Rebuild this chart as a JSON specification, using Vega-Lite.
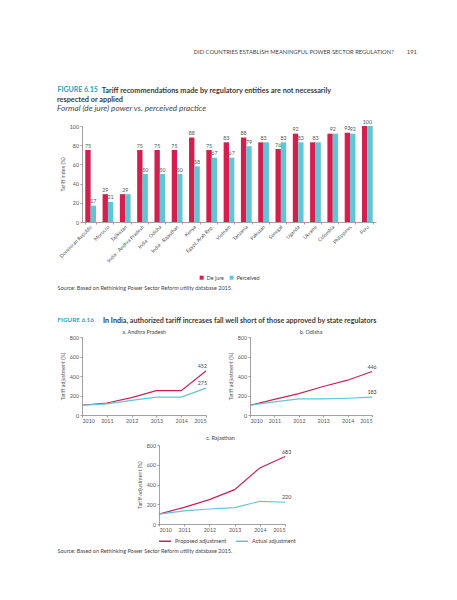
{
  "$schema": "https://vega.github.io/schema/vega-lite/v6.json",
  "background": "white",
  "padding": {"left": 57, "top": 48, "right": 10, "bottom": 10},
  "config": {
    "font": "Lato",
    "view": {"stroke": null},
    "axis": {"grid": false, "minExtent": 0, "domainColor": "#7a7a7a", "domainWidth": 0.7, "tickColor": "#7a7a7a", "tickWidth": 0.7, "tickSize": 2, "labelFontSize": 5.3, "labelColor": "#555555", "labelPadding": 1.5, "titleFontSize": 5.3, "titleFontWeight": "normal", "titleColor": "#555555"},
    "legend": {"labelFontSize": 5.5, "labelColor": "#444444"},
    "text": {"fontSize": 5.3, "color": "#555555"}
  },
  "title": {"text": "DID COUNTRIES ESTABLISH MEANINGFUL POWER SECTOR REGULATION?\u2003\u2003\u2003191", "anchor": "end", "fontSize": 5.8, "fontWeight": "normal", "color": "#444444", "offset": 31, "dx": 40},
  "resolve": {"scale": {"color": "independent"}, "legend": {"color": "independent"}},
  "spacing": 11,
  "datasets": {
    "bars": [
      {"country": "Dominican Republic", "type": "De jure", "value": 75},
      {"country": "Dominican Republic", "type": "Perceived", "value": 17},
      {"country": "Morocco", "type": "De jure", "value": 29},
      {"country": "Morocco", "type": "Perceived", "value": 21},
      {"country": "Tajikistan", "type": "De jure", "value": 29},
      {"country": "Tajikistan", "type": "Perceived", "value": 29},
      {"country": "India - Andhra Pradesh", "type": "De jure", "value": 75},
      {"country": "India - Andhra Pradesh", "type": "Perceived", "value": 50},
      {"country": "India - Odisha", "type": "De jure", "value": 75},
      {"country": "India - Odisha", "type": "Perceived", "value": 50},
      {"country": "India - Rajasthan", "type": "De jure", "value": 75},
      {"country": "India - Rajasthan", "type": "Perceived", "value": 50},
      {"country": "Kenya", "type": "De jure", "value": 88},
      {"country": "Kenya", "type": "Perceived", "value": 58},
      {"country": "Egypt, Arab Rep.", "type": "De jure", "value": 75},
      {"country": "Egypt, Arab Rep.", "type": "Perceived", "value": 67},
      {"country": "Vietnam", "type": "De jure", "value": 83},
      {"country": "Vietnam", "type": "Perceived", "value": 67},
      {"country": "Tanzania", "type": "De jure", "value": 88},
      {"country": "Tanzania", "type": "Perceived", "value": 79},
      {"country": "Pakistan", "type": "De jure", "value": 83},
      {"country": "Pakistan", "type": "Perceived", "value": 83},
      {"country": "Senegal", "type": "De jure", "value": 76},
      {"country": "Senegal", "type": "Perceived", "value": 83},
      {"country": "Uganda", "type": "De jure", "value": 92},
      {"country": "Uganda", "type": "Perceived", "value": 83},
      {"country": "Ukraine", "type": "De jure", "value": 83},
      {"country": "Ukraine", "type": "Perceived", "value": 83},
      {"country": "Colombia", "type": "De jure", "value": 92},
      {"country": "Colombia", "type": "Perceived", "value": 92},
      {"country": "Philippines", "type": "De jure", "value": 93},
      {"country": "Philippines", "type": "Perceived", "value": 92},
      {"country": "Peru", "type": "De jure", "value": 100},
      {"country": "Peru", "type": "Perceived", "value": 100}
    ],
    "ap": [
      {"year": 2010, "series": "Proposed adjustment", "value": 100},
      {"year": 2011, "series": "Proposed adjustment", "value": 123},
      {"year": 2012, "series": "Proposed adjustment", "value": 178},
      {"year": 2013, "series": "Proposed adjustment", "value": 250},
      {"year": 2014, "series": "Proposed adjustment", "value": 250},
      {"year": 2015, "series": "Proposed adjustment", "value": 452},
      {"year": 2010, "series": "Actual adjustment", "value": 100},
      {"year": 2011, "series": "Actual adjustment", "value": 115},
      {"year": 2012, "series": "Actual adjustment", "value": 150},
      {"year": 2013, "series": "Actual adjustment", "value": 183},
      {"year": 2014, "series": "Actual adjustment", "value": 184},
      {"year": 2015, "series": "Actual adjustment", "value": 275}
    ],
    "od": [
      {"year": 2010, "series": "Proposed adjustment", "value": 100},
      {"year": 2011, "series": "Proposed adjustment", "value": 161},
      {"year": 2012, "series": "Proposed adjustment", "value": 220},
      {"year": 2013, "series": "Proposed adjustment", "value": 292},
      {"year": 2014, "series": "Proposed adjustment", "value": 357},
      {"year": 2015, "series": "Proposed adjustment", "value": 446},
      {"year": 2010, "series": "Actual adjustment", "value": 100},
      {"year": 2011, "series": "Actual adjustment", "value": 134},
      {"year": 2012, "series": "Actual adjustment", "value": 165},
      {"year": 2013, "series": "Actual adjustment", "value": 165},
      {"year": 2014, "series": "Actual adjustment", "value": 172},
      {"year": 2015, "series": "Actual adjustment", "value": 183}
    ],
    "rj": [
      {"year": 2010, "series": "Proposed adjustment", "value": 100},
      {"year": 2011, "series": "Proposed adjustment", "value": 169},
      {"year": 2012, "series": "Proposed adjustment", "value": 247},
      {"year": 2013, "series": "Proposed adjustment", "value": 348},
      {"year": 2014, "series": "Proposed adjustment", "value": 568},
      {"year": 2015, "series": "Proposed adjustment", "value": 683},
      {"year": 2010, "series": "Actual adjustment", "value": 100},
      {"year": 2011, "series": "Actual adjustment", "value": 132},
      {"year": 2012, "series": "Actual adjustment", "value": 152},
      {"year": 2013, "series": "Actual adjustment", "value": 165},
      {"year": 2014, "series": "Actual adjustment", "value": 230},
      {"year": 2015, "series": "Actual adjustment", "value": 220}
    ]
  },
  "vconcat": [
    {
      "width": 294,
      "height": 96,
      "data": {"name": "bars"},
      "title": {
        "text": ["\u200b\u2003\u2003\u2003\u2003\u2003\u2003\u2003\u2003\u2009Tariff recommendations made by regulatory entities are not necessarily", "respected or applied"],
        "subtitle": "Formal (de jure) power vs. perceived practice",
        "anchor": "start", "fontSize": 7.3, "fontWeight": "bold", "color": "#3a3a3a", "lineHeight": 9.2,
        "subtitleFontSize": 8.2, "subtitleFontStyle": "italic", "subtitleFontWeight": "normal", "subtitleColor": "#4a4a4a", "subtitlePadding": 1.2,
        "offset": 4, "dy": 30.5
      },
      "transform": [
        {"joinaggregate": [{"op": "min", "field": "value", "as": "lo"}, {"op": "max", "field": "value", "as": "hi"}], "groupby": ["country"]}
      ],
      "encoding": {
        "x": {
          "field": "country", "type": "nominal",
          "sort": ["Dominican Republic", "Morocco", "Tajikistan", "India - Andhra Pradesh", "India - Odisha", "India - Rajasthan", "Kenya", "Egypt, Arab Rep.", "Vietnam", "Tanzania", "Pakistan", "Senegal", "Uganda", "Ukraine", "Colombia", "Philippines", "Peru"],
          "scale": {"paddingInner": 0.38, "paddingOuter": 0.19},
          "axis": {
            "labelAngle": -45, "labelAlign": "right", "labelBaseline": "middle", "tickBand": "extent", "labelFontSize": 5,
            "title": ["Source: Based on Rethinking Power Sector Reform utility database 2015.", ""],
            "titleX": -25, "titleY": 67.5, "titleAlign": "left", "titleAnchor": "start", "titleBaseline": "alphabetic", "titleLineHeight": 14, "titleFontSize": 5.5, "titleColor": "#444444"
          }
        }
      },
      "layer": [
        {
          "mark": {"type": "bar"},
          "encoding": {
            "xOffset": {"field": "type", "type": "nominal", "sort": ["De jure", "Perceived"], "scale": {"paddingInner": 0}},
            "y": {"field": "value", "type": "quantitative", "scale": {"domain": [0, 100], "nice": false},
                  "axis": {"values": [0, 20, 40, 60, 80, 100], "title": "Tariff index (%)", "titlePadding": 4}},
            "color": {"field": "type", "type": "nominal",
                      "scale": {"domain": ["De jure", "Perceived"], "range": ["#d21f4d", "#62c5d5"]},
                      "legend": {"orient": "none", "legendX": 117, "legendY": 149, "direction": "horizontal", "symbolType": "square", "symbolSize": 16, "symbolStrokeWidth": 0, "labelFontSize": 5.3, "labelOffset": 2.5, "columnPadding": 5, "title": null}}
          }
        },
        {
          "transform": [{"filter": "datum.lo != datum.hi"}],
          "mark": {"type": "text", "baseline": "bottom", "dy": -1.5},
          "encoding": {
            "xOffset": {"field": "type", "type": "nominal", "sort": ["De jure", "Perceived"], "scale": {"paddingInner": 0}},
            "y": {"field": "value", "type": "quantitative", "scale": {"domain": [0, 100], "nice": false},
                  "axis": {"orient": "right", "domain": false, "ticks": false, "labels": false, "title": "FIGURE 6.15", "titleAngle": 0, "titleX": -319, "titleY": -34.5, "titleAlign": "left", "titleBaseline": "alphabetic", "titleFontSize": 7, "titleFontWeight": "bold", "titleColor": "#1f9fc6"}},
            "text": {"field": "value", "type": "quantitative"}
          }
        },
        {
          "transform": [{"filter": "datum.lo == datum.hi && datum.type == 'De jure'"}],
          "mark": {"type": "text", "baseline": "bottom", "dy": -1.5},
          "encoding": {
            "y": {"field": "value", "type": "quantitative", "scale": {"domain": [0, 100], "nice": false}, "axis": null},
            "text": {"field": "value", "type": "quantitative"}
          }
        }
      ],
      "resolve": {"scale": {"y": "independent"}, "axis": {"y": "independent"}}
    },
    {
      "title": {"text": "In India, authorized tariff increases fall well short of those approved by state regulators", "anchor": "start", "fontSize": 7.15, "fontWeight": "bold", "color": "#3a3a3a", "offset": 4, "dx": 46, "dy": 12},
      "bounds": "flush",
      "spacing": 44,
      "resolve": {"scale": {"color": "independent"}, "legend": {"color": "independent"}},
      "hconcat": [
        {
          "width": 124,
          "height": 78,
          "data": {"name": "ap"},
          "title": {"text": "a. Andhra Pradesh", "frame": "group", "anchor": "middle", "fontSize": 5.5, "fontWeight": "normal", "color": "#444444", "offset": 3, "dy": 22},
          "encoding": {
            "x": {"field": "year", "type": "quantitative", "scale": {"domain": [2010, 2015], "nice": false, "zero": false},
                  "axis": {"values": [2010, 2011, 2012, 2013, 2014, 2015], "format": "d", "title": null}}
          },
          "layer": [
            {
              "mark": {"type": "line", "strokeWidth": 1.2},
              "encoding": {
                "y": {"field": "value", "type": "quantitative", "scale": {"domain": [0, 800], "nice": false},
                      "axis": {"values": [0, 200, 400, 600, 800], "title": "Tariff adjustment (%)", "titlePadding": 4}},
                "color": {"field": "series", "type": "nominal", "scale": {"domain": ["Proposed adjustment", "Actual adjustment"], "range": ["#c9215a", "#62c5d5"]}, "legend": null}
              }
            },
            {
              "transform": [{"filter": "datum.year == 2015"}],
              "mark": {"type": "text", "baseline": "bottom", "align": "right", "dx": 1, "dy": -2, "color": "#444444"},
              "encoding": {
                "y": {"field": "value", "type": "quantitative", "scale": {"domain": [0, 800], "nice": false},
                      "axis": {"orient": "right", "domain": false, "ticks": false, "labels": false, "title": "FIGURE 6.16", "titleAngle": 0, "titleX": -149, "titleY": -15.5, "titleAlign": "left", "titleBaseline": "alphabetic", "titleFontSize": 6.3, "titleFontWeight": "bold", "titleColor": "#1f9fc6"}},
                "text": {"field": "value", "type": "quantitative"}
              }
            }
          ],
          "resolve": {"scale": {"y": "independent"}, "axis": {"y": "independent"}}
        },
        {
          "width": 122,
          "height": 78,
          "data": {"name": "od"},
          "title": {"text": "b. Odisha", "frame": "group", "anchor": "middle", "fontSize": 5.5, "fontWeight": "normal", "color": "#444444", "offset": 0},
          "encoding": {
            "x": {"field": "year", "type": "quantitative", "scale": {"domain": [2010, 2015], "nice": false, "zero": false},
                  "axis": {"values": [2010, 2011, 2012, 2013, 2014, 2015], "format": "d", "title": null}},
            "y": {"field": "value", "type": "quantitative", "scale": {"domain": [0, 800], "nice": false},
                  "axis": {"values": [0, 200, 400, 600, 800], "title": "Tariff adjustment (%)", "titlePadding": 4}}
          },
          "layer": [
            {
              "mark": {"type": "line", "strokeWidth": 1.2},
              "encoding": {
                "color": {"field": "series", "type": "nominal", "scale": {"domain": ["Proposed adjustment", "Actual adjustment"], "range": ["#c9215a", "#62c5d5"]}, "legend": null}
              }
            },
            {
              "transform": [{"filter": "datum.year == 2015"}],
              "mark": {"type": "text", "baseline": "bottom", "align": "center", "dy": -2, "color": "#444444"},
              "encoding": {"text": {"field": "value", "type": "quantitative"}}
            }
          ]
        }
      ]
    },
    {
      "width": 203,
      "height": 79,
      "data": {"name": "rj"},
      "title": {"text": "c. Rajasthan", "frame": "group", "anchor": "middle", "dx": 37, "fontSize": 5.5, "fontWeight": "normal", "color": "#444444", "offset": 2},
      "encoding": {
        "x": {"field": "year", "type": "quantitative", "scale": {"domain": [2010, 2015], "range": [77, 203], "nice": false, "zero": false},
              "axis": {"values": [2010, 2011, 2012, 2013, 2014, 2015], "format": "d",
                       "title": "Source: Based on Rethinking Power Sector Reform utility database 2015.",
                       "titleX": -25, "titleY": 28, "titleAlign": "left", "titleAnchor": "start", "titleBaseline": "alphabetic", "titleFontSize": 5.5, "titleColor": "#444444"}},
        "y": {"field": "value", "type": "quantitative", "scale": {"domain": [0, 800], "nice": false},
              "axis": {"offset": -77, "values": [0, 200, 400, 600, 800], "title": "Tariff adjustment (%)", "titlePadding": 4}}
      },
      "layer": [
        {
          "mark": {"type": "line", "strokeWidth": 1.2},
          "encoding": {
            "color": {"field": "series", "type": "nominal", "scale": {"domain": ["Proposed adjustment", "Actual adjustment"], "range": ["#c9215a", "#62c5d5"]},
                      "legend": {"orient": "none", "legendX": 76, "legendY": 89, "direction": "horizontal", "symbolType": "stroke", "symbolSize": 144, "symbolStrokeWidth": 1.5, "labelFontSize": 5.5, "labelOffset": 3, "columnPadding": 6, "title": null}}
          }
        },
        {
          "transform": [{"filter": "datum.year == 2015"}],
          "mark": {"type": "text", "baseline": "bottom", "align": "left", "dx": -3, "dy": -2, "color": "#444444"},
          "encoding": {"text": {"field": "value", "type": "quantitative"}}
        }
      ]
    }
  ]
}
